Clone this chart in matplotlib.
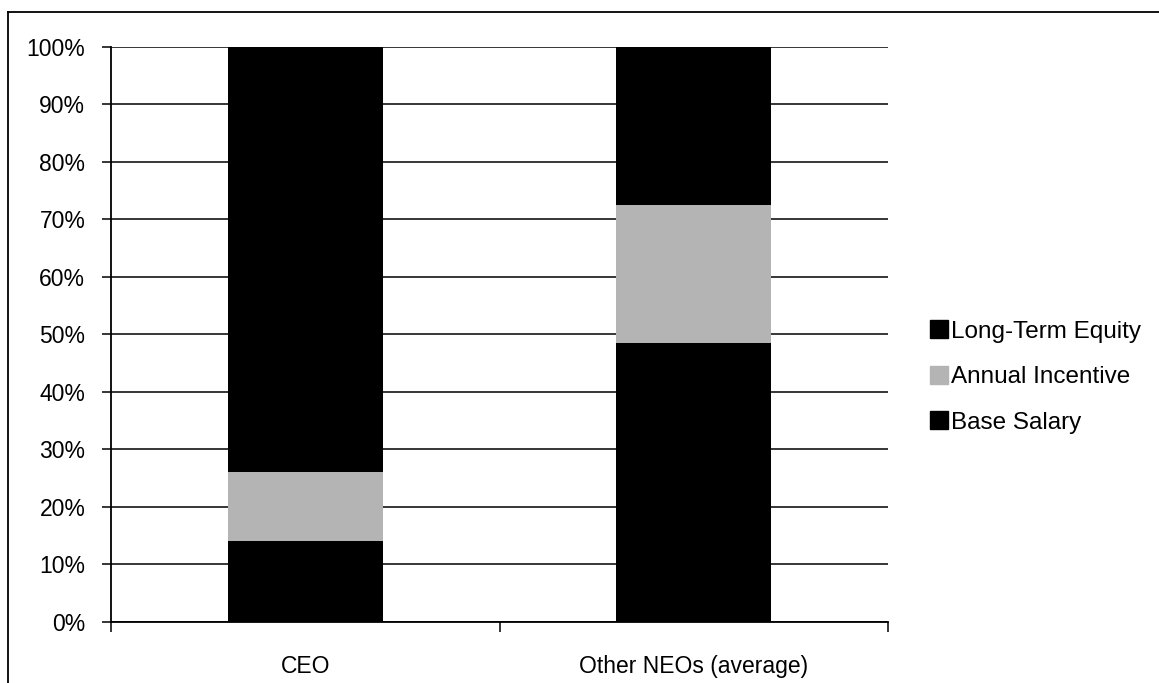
import matplotlib
matplotlib.use("Agg")
import matplotlib.pyplot as plt
from matplotlib.patches import Patch
from matplotlib.lines import Line2D
import numpy as np

plt.rcParams['font.family'] = ['Liberation Sans', 'DejaVu Sans']

# data (percent of total pay)
categories = ['CEO', 'Other NEOs (average)']
base_salary = [14, 48.5]
annual_incentive = [12, 24]
long_term_equity = [74, 27.5]
yticks = [0, 10, 20, 30, 40, 50, 60, 70, 80, 90, 100]

colors = {'base': '#000000', 'annual': '#b4b4b4', 'lte': '#000000'}

fig = plt.figure(figsize=(11.59, 6.83), dpi=100)
ax = fig.add_axes([111 / 1159, 61 / 683, 777 / 1159, 575.3 / 683])

x = np.arange(len(categories))
w = 0.4
b1 = np.array(base_salary)
b2 = b1 + np.array(annual_incentive)
ax.bar(x, base_salary, w, color=colors['base'], zorder=3)
ax.bar(x, annual_incentive, w, bottom=b1, color=colors['annual'], zorder=3)
ax.bar(x, long_term_equity, w, bottom=b2, color=colors['lte'], zorder=3)

ax.set_xlim(-0.5, 1.5)
ax.set_ylim(0, 100)
ax.set_yticks(yticks)
ax.set_yticklabels(['%d%%' % v for v in yticks])
ax.yaxis.grid(True, color='black', linewidth=1.1, zorder=0)
ax.set_axisbelow(True)

ax.set_xticks(x)
ax.set_xticklabels(categories)
ax.set_xticks([-0.5, 0.5, 1.5], minor=True)
ax.tick_params(axis='x', which='major', length=0, pad=24, labelsize=16.5)
ax.tick_params(axis='x', which='minor', length=7, width=1.1, direction='out')
ax.tick_params(axis='y', length=6.5, width=1.1, pad=12, labelsize=16.5)

for s in ['top', 'right']:
    ax.spines[s].set_visible(False)
for s in ['left', 'bottom']:
    ax.spines[s].set_linewidth(1.3)
    ax.spines[s].set_color('black')

handles = [Patch(color=colors['lte'], label='Long-Term Equity'),
           Patch(color=colors['annual'], label='Annual Incentive'),
           Patch(color=colors['base'], label='Base Salary')]
fig.legend(handles=handles, loc='center left', bbox_to_anchor=(930 / 1159, 1 - 377 / 683),
           frameon=False, fontsize=17.5, handlelength=0.75, handleheight=0.75,
           handletextpad=0.12, labelspacing=0.95, borderpad=0, borderaxespad=0)

# outer frame (top and left edges)
fig.add_artist(Line2D([8 / 1159, 1], [1 - 11.5 / 683, 1 - 11.5 / 683], color='black', linewidth=1.3))
fig.add_artist(Line2D([8 / 1159, 8 / 1159], [0, 1 - 11.5 / 683], color='black', linewidth=1.3))

fig.savefig('out.png', dpi=100)
